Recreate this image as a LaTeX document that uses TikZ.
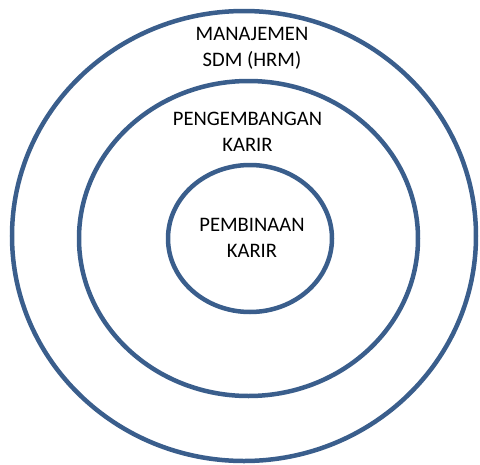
\documentclass[tikz,border=0pt]{standalone}
\usepackage{fontspec}
\setmainfont{Carlito}
\usetikzlibrary{shapes.geometric}
\definecolor{ringblue}{RGB}{58,94,140}
\tikzset{
  ring/.style={draw=ringblue, line width=4.5pt, ellipse, inner sep=0pt, outer sep=0pt},
  label/.style={anchor=base, inner sep=0pt, font=\fontsize{20.6}{24}\selectfont, text=black}
}
\begin{document}
\begin{tikzpicture}[x=1pt, y=-1pt]
\useasboundingbox (0,0) rectangle (480,464);
\node[ring, minimum width=464pt, minimum height=450pt] (outer) at (244,236) {};
\node[ring, minimum width=339pt, minimum height=315pt] (middle) at (248.5,238.5) {};
\node[ring, minimum width=164pt, minimum height=147pt] (inner) at (250,238.5) {};
\node[label] (l1a) at (252,40) {MANAJEMEN};
\node[label] (l1b) at (252,66.5) {SDM (HRM)};
\node[label] (l2a) at (247.5,125) {PENGEMBANGAN};
\node[label] (l2b) at (247.5,151) {KARIR};
\node[label] (l3a) at (252,231) {PEMBINAAN};
\node[label] (l3b) at (252,257) {KARIR};
\end{tikzpicture}
\end{document}
